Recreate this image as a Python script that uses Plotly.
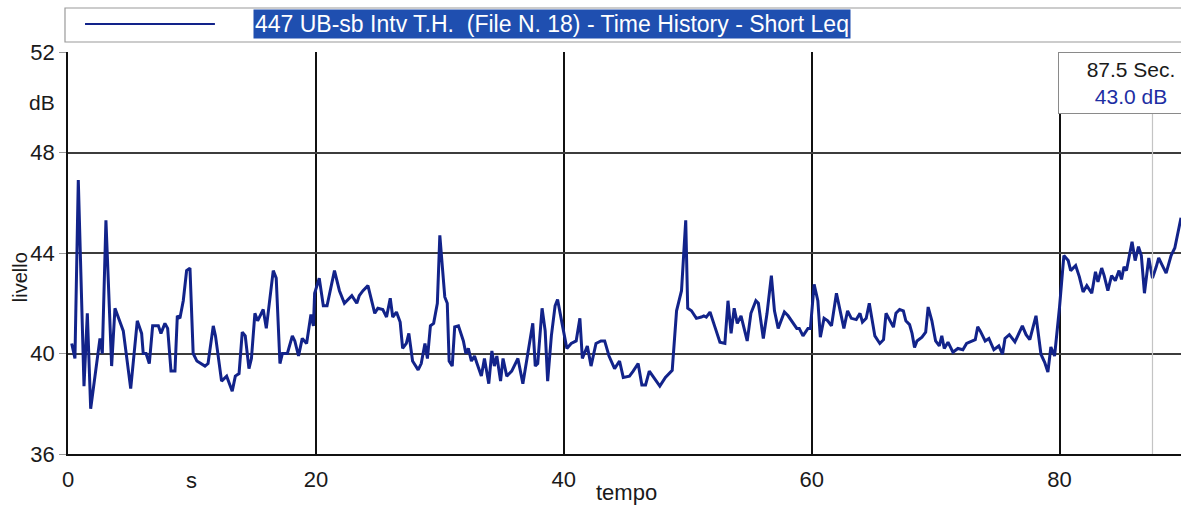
import plotly.graph_objects as go

# time (s) and level (dB)
time_s = [0.3, 0.56, 0.83, 1.29, 1.56, 1.83, 2.58, 2.77, 3.06, 3.52, 3.79, 4.46, 5.06, 5.59, 5.94, 6.07, 6.3, 6.56,
          6.83, 7.29, 7.5, 7.82, 8.04, 8.31, 8.63, 8.82, 9.03, 9.3, 9.57, 9.84, 10.1, 10.4, 11.05, 11.3, 11.72, 11.9,
          12.39, 12.8, 13.25, 13.5, 13.8, 14.06, 14.3, 14.6, 14.8, 15.08, 15.3, 15.75, 16.0, 16.56, 16.8, 17.1, 17.3,
          17.7, 18.1, 18.3, 18.6, 18.9, 19.25, 19.6, 19.8, 19.9, 20.27, 20.6, 20.9, 21.2, 21.5, 21.9, 22.3, 22.9, 23.3,
          23.5, 23.8, 24.2, 24.5, 24.75, 25.0, 25.4, 25.7, 26.0, 26.2, 26.5, 26.8, 27.0, 27.3, 27.5, 27.8, 28.25, 28.5,
          28.8, 29.0, 29.24, 29.5, 29.8, 30.0, 30.2, 30.4, 30.6, 30.75, 31.0, 31.2, 31.5, 31.9, 32.1, 32.3, 32.55, 32.8,
          33.0, 33.35, 33.6, 33.95, 34.2, 34.4, 34.6, 34.9, 35.1, 35.4, 35.8, 36.3, 36.7, 37.1, 37.5, 37.7, 37.9, 38.25,
          38.5, 38.7, 39.0, 39.3, 39.5, 39.9, 40.0, 40.25, 40.6, 41.0, 41.3, 41.5, 41.9, 42.2, 42.6, 43.0, 43.3, 43.65,
          44.1, 44.5, 44.8, 45.3, 45.6, 46.0, 46.3, 46.6, 46.9, 47.4, 47.75, 48.2, 48.75, 49.1, 49.5, 49.84, 50.0, 50.3,
          50.7, 51.1, 51.3, 51.5, 51.8, 52.2, 52.6, 53.0, 53.25, 53.5, 53.75, 54.0, 54.3, 54.8, 55.1, 55.5, 55.7, 56.1,
          56.4, 56.75, 57.0, 57.3, 57.8, 58.1, 58.5, 58.8, 59.0, 59.3, 59.7, 59.9, 60.2, 60.5, 60.7, 61.0, 61.3, 61.6,
          62.0, 62.3, 62.6, 62.9, 63.2, 63.6, 63.9, 64.1, 64.4, 64.65, 65.1, 65.5, 65.8, 66.0, 66.2, 66.6, 66.8, 67.1,
          67.4, 67.6, 67.9, 68.1, 68.3, 68.5, 68.9, 69.2, 69.4, 69.7, 70.0, 70.3, 70.5, 70.7, 71.0, 71.4, 71.8, 72.2,
          72.5, 72.9, 73.2, 73.4, 73.6, 74.0, 74.3, 74.7, 75.1, 75.4, 75.6, 75.95, 76.4, 77.0, 77.3, 77.6, 78.1, 78.5,
          78.8, 79.06, 79.3, 79.6, 80.0, 80.35, 80.7, 80.9, 81.3, 81.6, 81.9, 82.2, 82.6, 82.9, 83.1, 83.4, 83.6, 83.9,
          84.2, 84.5, 84.8, 85.0, 85.2, 85.4, 85.85, 86.1, 86.37, 86.6, 86.85, 87.2, 87.5, 87.8, 88.0, 88.3, 88.6, 89.0,
          89.3, 89.8]
level_db = [40.4, 39.8, 46.9, 38.7, 41.6, 37.8, 40.6, 40.0, 45.3, 39.5, 41.8, 40.9, 38.6, 41.3, 40.8, 40.0, 40.0, 39.6,
            41.1, 41.1, 40.8, 41.2, 41.0, 39.3, 39.3, 41.5, 41.4, 42.1, 43.3, 43.4, 40.0, 39.7, 39.5, 39.6, 41.1, 40.7,
            38.9, 39.1, 38.5, 39.1, 39.2, 40.85, 40.7, 39.4, 39.8, 41.6, 41.3, 41.75, 41.0, 43.3, 43.0, 39.6, 40.0,
            40.0, 40.7, 40.5, 39.9, 40.6, 40.4, 41.55, 41.1, 42.4, 43.0, 41.9, 41.9, 42.6, 43.3, 42.5, 42.0, 42.3, 42.0,
            42.3, 42.5, 42.7, 42.1, 41.6, 41.8, 41.75, 41.45, 42.2, 41.45, 41.65, 41.25, 40.2, 40.4, 40.8, 39.7, 39.35,
            39.6, 40.4, 39.8, 41.1, 41.2, 42.0, 44.7, 43.3, 42.25, 42.0, 39.7, 39.5, 41.06, 41.1, 40.5, 40.0, 40.2,
            39.7, 39.9, 39.6, 39.1, 39.8, 38.8, 40.1, 39.5, 39.9, 38.9, 39.8, 39.1, 39.3, 39.8, 38.8, 40.0, 41.2, 39.5,
            39.6, 41.8, 40.9, 38.9, 40.7, 41.9, 42.15, 41.1, 40.85, 40.2, 40.4, 40.5, 41.4, 39.8, 40.3, 39.5, 40.4, 40.5,
            40.5, 39.9, 39.4, 39.7, 39.05, 39.1, 39.3, 39.6, 38.75, 38.75, 39.3, 38.95, 38.7, 39.05, 39.33, 41.7, 42.5,
            45.3, 41.8, 41.7, 41.4, 41.45, 41.5, 41.45, 41.65, 41.05, 40.45, 40.4, 42.1, 40.8, 41.8, 41.2, 41.5, 40.5,
            41.6, 42.1, 42.0, 40.6, 41.6, 43.1, 41.7, 41.0, 41.65, 41.5, 41.2, 41.0, 41.0, 40.7, 41.0, 41.0, 42.75,
            42.1, 40.65, 41.4, 41.3, 41.1, 42.4, 41.65, 41.0, 41.7, 41.4, 41.35, 41.6, 41.25, 41.4, 42.0, 40.7, 40.4,
            40.55, 41.6, 41.4, 41.05, 41.6, 41.75, 41.7, 41.3, 41.15, 40.8, 40.24, 40.5, 40.65, 40.85, 41.85, 41.3,
            40.5, 40.3, 40.7, 40.2, 40.45, 40.05, 40.2, 40.15, 40.4, 40.5, 40.55, 41.06, 40.9, 40.5, 40.6, 40.15,
            40.3, 39.97, 40.6, 40.75, 40.46, 41.1, 40.75, 40.55, 41.5, 39.97, 39.65, 39.26, 40.26, 39.9, 41.85, 43.9,
            43.7, 43.3, 43.5, 43.05, 42.45, 42.7, 42.4, 43.25, 42.85, 43.4, 43.1, 42.5, 43.1, 42.9, 43.3, 42.95, 43.45,
            43.3, 44.45, 43.7, 44.25, 43.9, 42.4, 43.8, 43.0, 43.45, 43.8, 43.5, 43.2, 43.9, 44.2, 45.4]

y_ticks = [36, 40, 44, 48, 52]
x_ticks = [0, 20, 40, 60, 80]
series_name = "447 UB-sb Intv T.H.  (File N. 18) - Time History - Short Leq"
cursor_t, cursor_db = 87.5, 43.0

LINE_COLOR = "#12238a"
FONT = "Liberation Sans, Arial, sans-serif"

fig = go.Figure()
fig.add_trace(go.Scatter(x=time_s, y=level_db, mode="lines",
                         line=dict(color=LINE_COLOR, width=3), showlegend=False))

fig.update_layout(
    width=1181, height=507,
    margin=dict(l=68, r=0, t=52, b=53),
    paper_bgcolor="white", plot_bgcolor="white",
    font=dict(family=FONT, size=21, color="#1a1a1a"),
    xaxis=dict(range=[0, 89.8], tickvals=x_ticks, showgrid=True, gridcolor="#111111", gridwidth=1.8,
               showline=True, linecolor="#111111", linewidth=1.8, zeroline=False,
               ticks="", ticklabelstandoff=5, tickfont=dict(size=22)),
    yaxis=dict(range=[36, 52], tickvals=y_ticks, showgrid=True, gridcolor="#3c3c3c", gridwidth=1.6,
               showline=True, linecolor="#111111", linewidth=1.8, zeroline=False,
               ticks="outside", ticklen=7, tickcolor="#999999", tickfont=dict(size=22)),
)

shapes = [
    # legend frame
    dict(type="rect", xref="paper", yref="paper", x0=-0.0027, x1=1.01, y0=1.0249, y1=1.1095,
         line=dict(color="#9a9a9a", width=1.2), fillcolor="white", layer="above"),
    # legend sample line
    dict(type="line", xref="paper", yref="paper", x0=0.0153, x1=0.132, y0=1.0697, y1=1.0697,
         line=dict(color=LINE_COLOR, width=1.8)),
    # cursor line
    dict(type="line", xref="x", yref="paper", x0=cursor_t, x1=cursor_t, y0=0, y1=0.846,
         line=dict(color="#c4c4c4", width=1.2)),
]
fig.update_layout(shapes=shapes)

annotations = [
    dict(text=series_name, xref="paper", yref="paper", x=0.166, y=1.0697, xanchor="left", yanchor="middle",
         showarrow=False, bgcolor="#1f4fb0", borderpad=1,
         font=dict(family="Liberation Sans Narrow, Arial Narrow, " + FONT, size=23, color="white")),
    dict(text=f"{cursor_t} Sec.<br><span style='color:#1d2ea3'>{cursor_db:.1f} dB</span>",
         xref="paper", yref="paper", x=0.8895, y=1.0, xanchor="left", yanchor="top",
         showarrow=False, bgcolor="white", bordercolor="#8a8a8a", borderwidth=1, borderpad=5,
         width=134, align="center", font=dict(size=21, color="#1a1a1a")),
    dict(text="dB", xref="paper", yref="y", x=-0.0234, y=50.0, xanchor="center", yanchor="middle",
         showarrow=False, font=dict(size=21)),
    dict(text="livello", xref="paper", yref="paper", x=-0.043, y=0.44, xanchor="center", yanchor="middle",
         textangle=-90, showarrow=False, font=dict(size=20)),
    dict(text="s", xref="x", yref="paper", x=10, y=-0.0647, xanchor="center", yanchor="middle",
         showarrow=False, font=dict(size=22)),
    dict(text="tempo", xref="paper", yref="paper", x=0.502, y=-0.097, xanchor="center", yanchor="middle",
         showarrow=False, font=dict(size=22)),
]
fig.update_layout(annotations=annotations)

# remove the default page margin so the 1181x507 figure fills the window exactly
fig.write_html("out.html",
               config={"displayModeBar": False},
               post_script="document.body.style.margin='0';"
                           "document.documentElement.style.overflow='hidden';")
